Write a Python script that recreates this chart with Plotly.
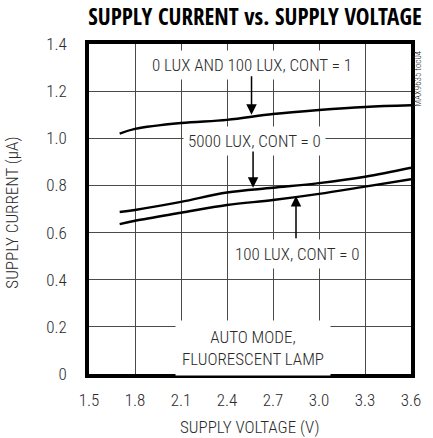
import plotly.graph_objects as go

# Data
voltage = [1.7, 1.8, 2.1, 2.4, 2.7, 3.0, 3.3, 3.6]
cur_cont1 = [1.02, 1.04, 1.065, 1.078, 1.103, 1.12, 1.133, 1.14]
cur_5000lux = [0.687, 0.696, 0.73, 0.77, 0.79, 0.81, 0.837, 0.875]
cur_100lux = [0.636, 0.65, 0.684, 0.717, 0.738, 0.764, 0.795, 0.826]

x_ticks = [1.5, 1.8, 2.1, 2.4, 2.7, 3.0, 3.3, 3.6]
x_ticktext = ["1.5", "1.8", "2.1", "2.4", "2.7", "3.0", "3.3", "3.6"]
y_ticks = [0, 0.2, 0.4, 0.6, 0.8, 1.0, 1.2, 1.4]
y_ticktext = ["0", "0.2", "0.4", "0.6", "0.8", "1.0", "1.2", "1.4"]

FONT = "Roboto Condensed, sans-serif"
TFONT = "Open Sans Condensed, Roboto Condensed, sans-serif"
TXT_COLOR = "#2a2a2a"

fig = go.Figure()
for ys in (cur_cont1, cur_5000lux, cur_100lux):
    fig.add_trace(go.Scatter(x=voltage, y=ys, mode="lines",
                             line=dict(color="black", width=2.4, shape="spline"),
                             showlegend=False, hoverinfo="skip"))

axis_common = dict(showgrid=True, gridcolor="#4a4a4a", gridwidth=1,
                   showline=True, linecolor="black", linewidth=3.5, mirror=True,
                   zeroline=False, ticks="",
                   tickfont=dict(family=FONT, size=17, color=TXT_COLOR, weight=300))

fig.update_xaxes(range=[1.5, 3.6], tickvals=x_ticks, ticktext=x_ticktext,
                 ticklabelstandoff=8, **axis_common)
fig.update_yaxes(range=[0, 1.4], tickvals=y_ticks, ticktext=y_ticktext,
                 ticklabelstandoff=15, **axis_common)

txt = dict(family=FONT, size=17, color=TXT_COLOR, weight=300)
ann = []
# text boxes
ann.append(dict(x=2.56, y=1.31, xref="x", yref="y", text="0 LUX AND 100 LUX, CONT = 1",
                showarrow=False, font=txt, bgcolor="white", borderpad=4))
ann.append(dict(x=2.58, y=0.99, xref="x", yref="y", text="5000 LUX, CONT = 0",
                showarrow=False, font=txt, bgcolor="white", borderpad=4))
ann.append(dict(x=2.86, y=0.51, xref="x", yref="y", text="100 LUX, CONT = 0",
                showarrow=False, font=txt, bgcolor="white", borderpad=4))
ann.append(dict(x=2.57, y=0.11, xref="x", yref="y", text="AUTO MODE,<br>FLUORESCENT LAMP",
                showarrow=False, font=txt, bgcolor="white", borderpad=6))
# arrows
for (hx, hy, tx, ty) in [(2.56, 1.10, 2.56, 1.27), (2.57, 0.79, 2.57, 0.95), (2.85, 0.755, 2.85, 0.57)]:
    ann.append(dict(x=hx, y=hy, ax=tx, ay=ty, xref="x", yref="y", axref="x", ayref="y",
                    text="", showarrow=True, arrowhead=2, arrowsize=1.4, arrowwidth=1.5,
                    arrowcolor="black"))
# axis titles
ann.append(dict(x=0.5, y=-0.16, xref="paper", yref="paper", text="SUPPLY VOLTAGE (V)",
                showarrow=False, font=txt, xanchor="center", yanchor="middle"))
ann.append(dict(x=-0.238, y=0.49, xref="paper", yref="paper", text="SUPPLY CURRENT (µA)",
                showarrow=False, font=txt, textangle=-90, xanchor="center", yanchor="middle"))
ann.append(dict(x=1.021, y=0.897, xref="paper", yref="paper", text="MAX9635 toc04",
                showarrow=False, font=dict(family=FONT, size=9, color=TXT_COLOR, weight=300),
                textangle=-90, xanchor="center", yanchor="middle"))

fig.update_layout(
    width=433, height=438,
    margin=dict(l=89, r=12, t=44, b=64),
    paper_bgcolor="white", plot_bgcolor="white",
    title=dict(text="<b>SUPPLY CURRENT vs. SUPPLY VOLTAGE</b>", x=0.589, xanchor="center",
               y=0.961, yanchor="middle",
               font=dict(family=TFONT, size=23, color="black")),
    annotations=ann,
)

fig.write_html("out.html", config={"displayModeBar": False},
               post_script="document.body.style.margin='0';")
